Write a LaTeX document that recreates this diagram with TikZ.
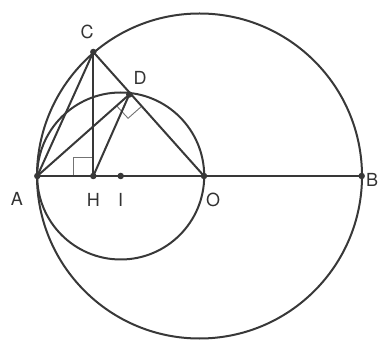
\documentclass[tikz,border=0pt]{standalone}
\usepackage{fontspec}
\setmainfont{TeX Gyre Heros}
\usetikzlibrary{calc}
\begin{document}
\begin{tikzpicture}[x=1pt,y=-1pt,
  ln/.style={draw=black!78,line width=2pt},
  mk/.style={draw=black!55,line width=0.9pt},
  dot/.style={circle,fill=black!78,inner sep=0pt,minimum size=6.5pt},
  lab/.style={font=\fontsize{18}{18}\selectfont,text=black!80,inner sep=0pt}]
\useasboundingbox (0,0) rectangle (380,347);
\coordinate (A) at (37.3,176);
\coordinate (O) at (204,176);
\coordinate (B) at (361.7,176);
\coordinate (I) at (120.7,176);
\coordinate (C) at (93.3,52);
\coordinate (H) at (93.3,176);
\coordinate (D) at (129.3,94.5);
\coordinate (M) at (199.5,176);
% circles
\draw[ln] (M) circle (162.5);
\draw[ln] (I) circle (83.5);
% right angle marks
\draw[mk] (73.3,176) -- (73.3,157) -- (93.3,157);
\coordinate (Da) at ($(D)!17pt!(A)$);
\coordinate (Do) at ($(D)!17pt!(O)$);
\draw[mk] (Da) -- ($(Da)+(Do)-(D)$) -- (Do);
% lines
\draw[ln] (A) -- (B);
\draw[ln] (A) -- (C);
\draw[ln] (C) -- (H);
\draw[ln] (C) -- (O);
\draw[ln] (A) -- (D);
\draw[ln] (H) -- (D);
% dots
\foreach \p in {A,O,B,I,C,H,D} \node[dot] at (\p) {};
% labels
\node[lab] (lA) at (17,199) {A};
\node[lab] (lC) at (87,32) {C};
\node[lab] (lD) at (140,78) {D};
\node[lab] (lH) at (93.3,200) {H};
\node[lab] (lI) at (120.7,200) {I};
\node[lab] (lO) at (213,200) {O};
\node[lab] (lB) at (372,180) {B};
\end{tikzpicture}
\end{document}
